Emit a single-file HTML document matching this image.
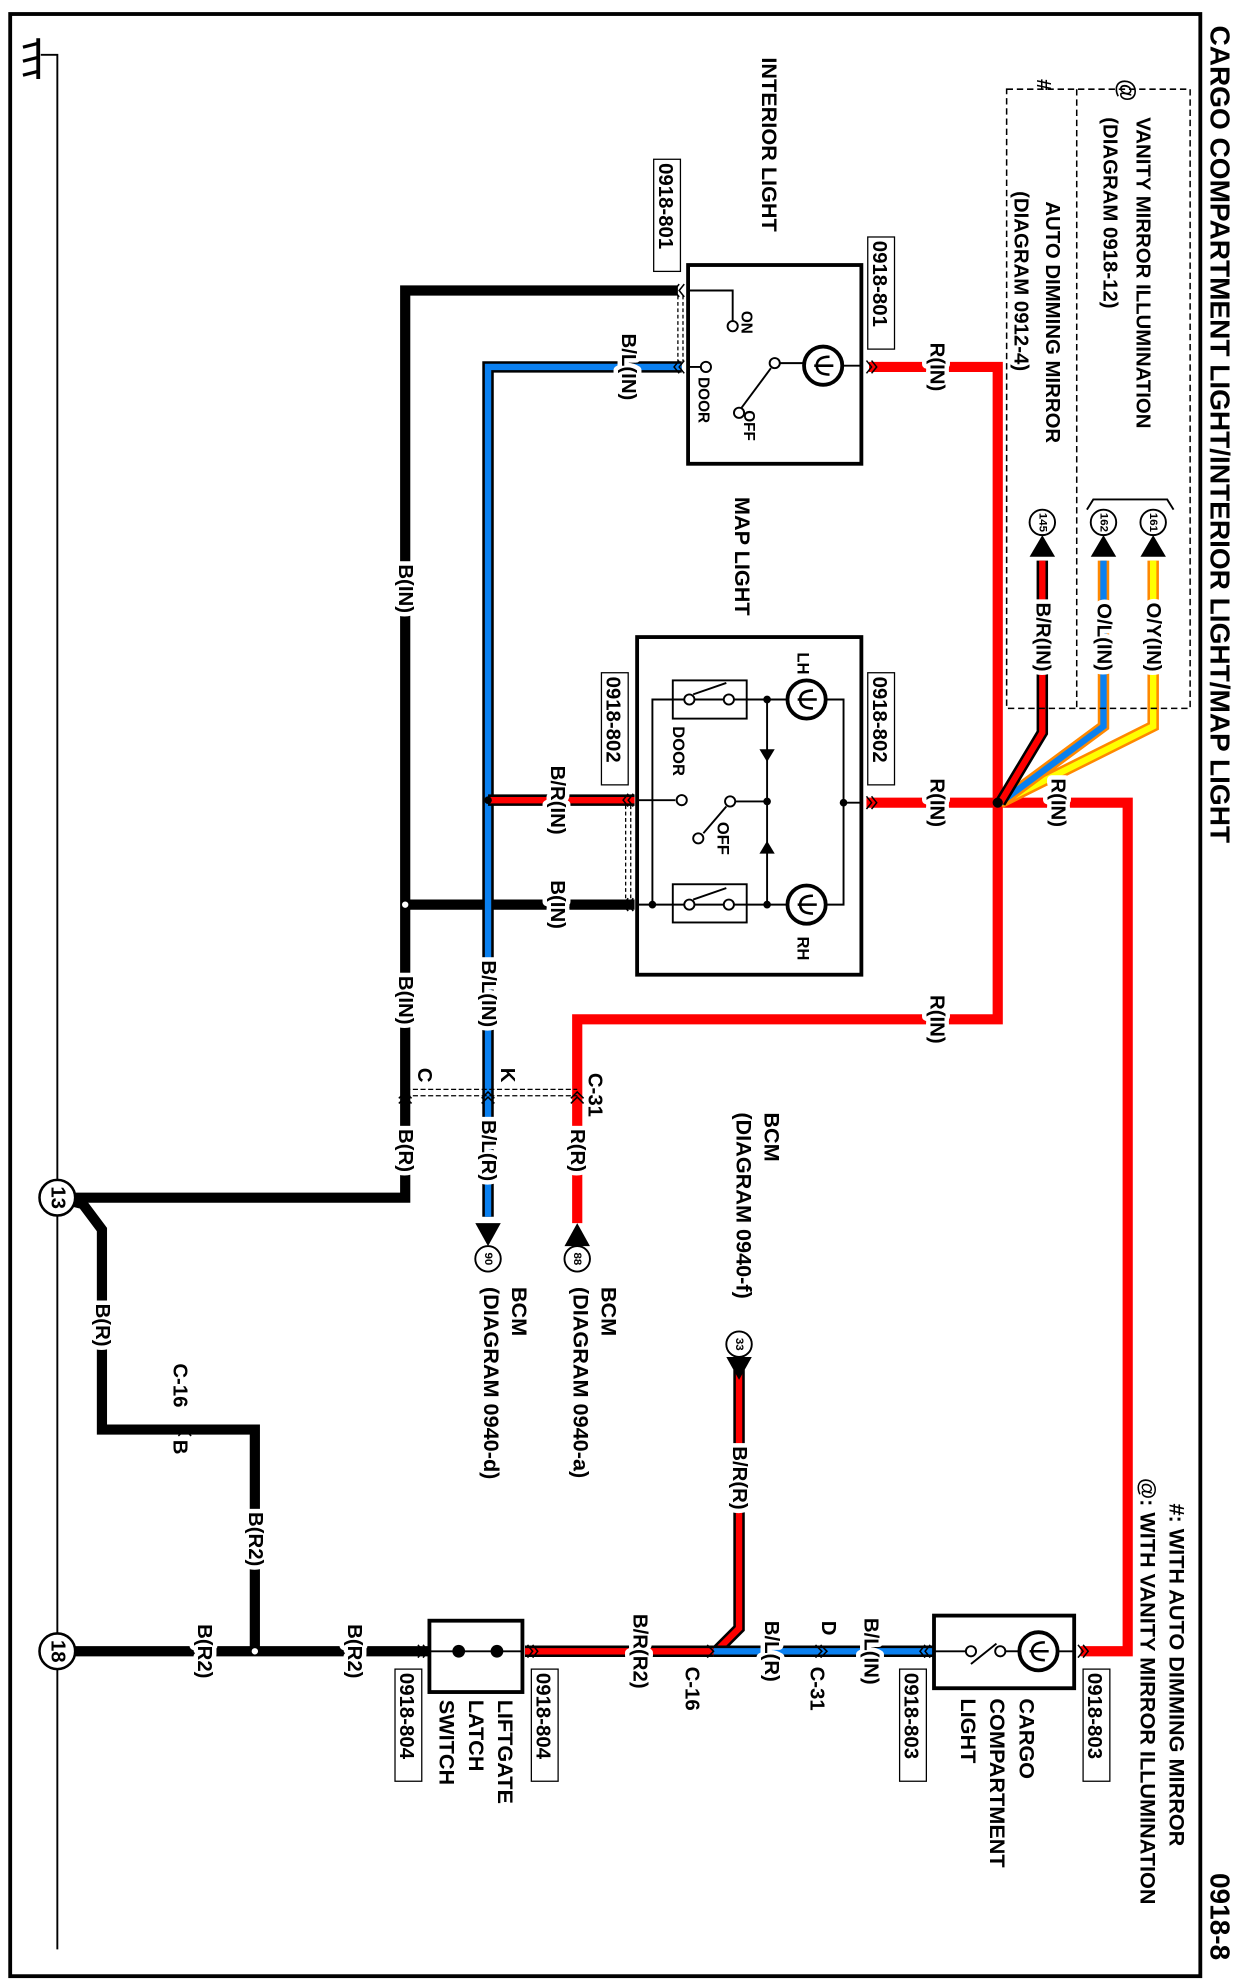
<!DOCTYPE html>
<html><head><meta charset="utf-8"><style>
html,body{margin:0;padding:0;background:#fff;}
svg{display:block;}
text{font-family:"Liberation Sans",sans-serif;font-weight:bold;fill:#000;}
.l{font-size:16px;paint-order:stroke;stroke:#fff;stroke-width:7px;stroke-linejoin:round;}
.n{font-size:16px;}
</style></head><body>
<svg width="1236" height="1980" viewBox="0 0 970 1554" preserveAspectRatio="none" xmlns="http://www.w3.org/2000/svg">
<defs>
<g id="lamp"><circle r="15" fill="#fff" stroke="#000" stroke-width="3"/><path d="M-7,-5 Q-7,5 0,5 Q7,5 7,-5 M0,-8 L0,7" fill="none" stroke="#000" stroke-width="2"/></g>
</defs>
<rect x="0" y="0" width="970" height="1554" fill="#fff"/>
<rect x="8" y="11" width="934" height="1540" fill="none" stroke="#000" stroke-width="3"/>
<text class="n" style="font-size:22px" transform="translate(950,20) rotate(90)">CARGO COMPARTMENT LIGHT/INTERIOR LIGHT/MAP LIGHT</text>
<text class="n" style="font-size:22px" transform="translate(950,1470) rotate(90)">0918-8</text>
<polyline points="32,43 45,43 45,1530" fill="none" stroke="#000" stroke-width="1.5"/>
<line x1="30" y1="30" x2="30" y2="62" stroke="#000" stroke-width="3"/>
<line x1="30" y1="34" x2="18" y2="37" stroke="#000" stroke-width="2.5"/>
<line x1="30" y1="45" x2="18" y2="48" stroke="#000" stroke-width="2.5"/>
<line x1="30" y1="56" x2="18" y2="59" stroke="#000" stroke-width="2.5"/>

<g fill="none" stroke="#000" stroke-width="8" stroke-linejoin="miter">
<polyline points="45,940 318,940 318,228 532,228"/>
<polyline points="45,940 65,945 80,965 80,1122 200,1122 200,1296"/>
<line x1="45" y1="1296" x2="338" y2="1296"/>
<line x1="318" y1="710" x2="498" y2="710"/>
</g>
<polyline points="535,288 383,288 383,955" fill="none" stroke="#000" stroke-width="9"/>
<polyline points="535,288 383,288 383,955" fill="none" stroke="#0a80f0" stroke-width="5"/>
<line x1="383" y1="628" x2="498" y2="628" stroke="#000" stroke-width="9"/>
<line x1="383" y1="628" x2="498" y2="628" stroke="#f00" stroke-width="5"/>
<g fill="none" stroke="#f00" stroke-width="8">
<polyline points="682,288 783,288 783,800 453,800 453,960"/>
<line x1="680" y1="630" x2="783" y2="630"/>
<polyline points="783,630 885,630 885,1296 848,1296"/>
</g>
<polyline points="905,440 905,570 785,630" fill="none" stroke="#f80" stroke-width="9"/>
<polyline points="905,440 905,570 785,630" fill="none" stroke="#ff0" stroke-width="5"/>
<polyline points="866,440 866,570 785,630" fill="none" stroke="#f80" stroke-width="9"/>
<polyline points="866,440 866,570 785,630" fill="none" stroke="#0a80f0" stroke-width="5"/>
<polyline points="818,440 818,575 785,630" fill="none" stroke="#000" stroke-width="9"/>
<polyline points="818,440 818,575 785,630" fill="none" stroke="#f00" stroke-width="5"/>
<circle cx="783" cy="630" r="4" fill="#000"/>
<line x1="412" y1="1296" x2="560" y2="1296" stroke="#000" stroke-width="9"/>
<line x1="412" y1="1296" x2="560" y2="1296" stroke="#f00" stroke-width="5"/>
<polyline points="580,1075 580,1278 562,1296" fill="none" stroke="#000" stroke-width="9"/>
<polyline points="580,1075 580,1278 562,1296" fill="none" stroke="#f00" stroke-width="5"/>
<line x1="560" y1="1296" x2="732" y2="1296" stroke="#000" stroke-width="9"/>
<line x1="560" y1="1296" x2="732" y2="1296" stroke="#0a80f0" stroke-width="5"/>

<circle cx="318" cy="710" r="3" fill="#fff" stroke="#000" stroke-width="1"/>
<circle cx="383" cy="628" r="3" fill="#000"/>
<circle cx="200" cy="1296" r="3" fill="#fff" stroke="#000" stroke-width="1"/>

<circle cx="45" cy="940" r="14" fill="#fff" stroke="#000" stroke-width="2"/>
<text class="n" text-anchor="middle" dominant-baseline="central" transform="translate(45,940) rotate(90)">13</text>
<circle cx="45" cy="1296" r="14" fill="#fff" stroke="#000" stroke-width="2"/>
<text class="n" text-anchor="middle" dominant-baseline="central" transform="translate(45,1296) rotate(90)">18</text>

<!-- interior light -->
<rect x="540" y="208" width="136" height="156" fill="#fff" stroke="#000" stroke-width="3"/>
<polyline points="540,228 575,228 575,252" fill="none" stroke="#000" stroke-width="1.5"/>
<circle cx="575" cy="256" r="4" fill="#fff" stroke="#000" stroke-width="1.5"/>
<line x1="540" y1="288" x2="550" y2="288" stroke="#000" stroke-width="1.5"/>
<circle cx="554" cy="288" r="4" fill="#fff" stroke="#000" stroke-width="1.5"/>
<circle cx="608" cy="285" r="4" fill="#fff" stroke="#000" stroke-width="1.5"/>
<line x1="605" y1="289" x2="582" y2="320" stroke="#000" stroke-width="1.5"/>
<circle cx="580" cy="324" r="4" fill="#fff" stroke="#000" stroke-width="1.5"/>
<line x1="612" y1="285" x2="632" y2="285" stroke="#000" stroke-width="1.5"/>
<use href="#lamp" transform="translate(646,287) rotate(90)"/>
<line x1="661" y1="287" x2="676" y2="287" stroke="#000" stroke-width="1.5"/>
<text class="n" style="font-size:12px" transform="translate(582,244) rotate(90)">ON</text>
<text class="n" style="font-size:12px" transform="translate(548,296) rotate(90)">DOOR</text>
<text class="n" style="font-size:12px" transform="translate(584,322) rotate(90)">OFF</text>
<text class="n" style="font-size:17px" transform="translate(598,45) rotate(90)">INTERIOR LIGHT</text>
<rect x="513" y="125" width="21" height="88" fill="#fff" stroke="#000" stroke-width="1"/>
<text class="n" transform="translate(517,128) rotate(90)">0918-801</text>
<rect x="681" y="186" width="21" height="88" fill="#fff" stroke="#000" stroke-width="1"/>
<text class="n" transform="translate(685,189) rotate(90)">0918-801</text>
<line x1="532" y1="232" x2="532" y2="284" stroke="#000" stroke-width="1" stroke-dasharray="3,2"/>
<line x1="536" y1="232" x2="536" y2="284" stroke="#000" stroke-width="1" stroke-dasharray="3,2"/>

<!-- map light -->
<rect x="500" y="500" width="176" height="265" fill="#fff" stroke="#000" stroke-width="3"/>
<rect x="528" y="534" width="58" height="30" fill="#fff" stroke="#000" stroke-width="1.5"/>
<rect x="528" y="694" width="58" height="30" fill="#fff" stroke="#000" stroke-width="1.5"/>
<polyline points="500,710 512,710 512,549 620,549" fill="none" stroke="#000" stroke-width="1.5"/>
<line x1="512" y1="710" x2="620" y2="710" stroke="#000" stroke-width="1.5"/>
<line x1="544" y1="545" x2="570" y2="536" stroke="#000" stroke-width="1.5"/>
<line x1="544" y1="706" x2="570" y2="697" stroke="#000" stroke-width="1.5"/>
<circle cx="541" cy="549" r="4" fill="#fff" stroke="#000" stroke-width="1.5"/>
<circle cx="572" cy="549" r="4" fill="#fff" stroke="#000" stroke-width="1.5"/>
<circle cx="541" cy="710" r="4" fill="#fff" stroke="#000" stroke-width="1.5"/>
<circle cx="572" cy="710" r="4" fill="#fff" stroke="#000" stroke-width="1.5"/>
<line x1="602" y1="549" x2="602" y2="710" stroke="#000" stroke-width="1.5"/>
<circle cx="602" cy="549" r="3" fill="#000"/><circle cx="602" cy="710" r="3" fill="#000"/><circle cx="602" cy="629" r="3" fill="#000"/>
<circle cx="512" cy="710" r="3" fill="#000"/>
<polygon points="596,588 608,588 602,598" fill="#000"/>
<polygon points="596,670 608,670 602,660" fill="#000"/>
<use href="#lamp" transform="translate(633,549) rotate(90)"/>
<use href="#lamp" transform="translate(633,710) rotate(90)"/>
<polyline points="648,549 662,549 662,710 648,710" fill="none" stroke="#000" stroke-width="1.5"/>
<line x1="662" y1="630" x2="676" y2="630" stroke="#000" stroke-width="1.5"/>
<circle cx="662" cy="630" r="3" fill="#000"/>
<line x1="500" y1="628" x2="530" y2="628" stroke="#000" stroke-width="1.5"/>
<circle cx="535" cy="628" r="4" fill="#fff" stroke="#000" stroke-width="1.5"/>
<line x1="602" y1="629" x2="577" y2="629" stroke="#000" stroke-width="1.5"/>
<circle cx="573" cy="629" r="4" fill="#fff" stroke="#000" stroke-width="1.5"/>
<line x1="570" y1="633" x2="552" y2="654" stroke="#000" stroke-width="1.5"/>
<circle cx="548" cy="658" r="4" fill="#fff" stroke="#000" stroke-width="1.5"/>
<text class="n" style="font-size:13px" transform="translate(626,512) rotate(90)">LH</text>
<text class="n" style="font-size:13px" transform="translate(626,735) rotate(90)">RH</text>
<text class="n" style="font-size:13px" transform="translate(528,570) rotate(90)">DOOR</text>
<text class="n" style="font-size:13px" transform="translate(563,645) rotate(90)">OFF</text>
<text class="n" style="font-size:17px" transform="translate(577,390) rotate(90)">MAP LIGHT</text>
<rect x="472" y="528" width="21" height="88" fill="#fff" stroke="#000" stroke-width="1"/>
<text class="n" transform="translate(476,531) rotate(90)">0918-802</text>
<rect x="681" y="528" width="21" height="88" fill="#fff" stroke="#000" stroke-width="1"/>
<text class="n" transform="translate(685,531) rotate(90)">0918-802</text>
<line x1="491" y1="632" x2="491" y2="706" stroke="#000" stroke-width="1" stroke-dasharray="3,2"/>
<line x1="495" y1="632" x2="495" y2="706" stroke="#000" stroke-width="1" stroke-dasharray="3,2"/>

<!-- dashed option box -->
<rect x="790" y="70" width="144" height="486" fill="none" stroke="#000" stroke-width="1.2" stroke-dasharray="5,3"/>
<line x1="845" y1="70" x2="845" y2="556" stroke="#000" stroke-width="1.2" stroke-dasharray="5,3"/>
<text class="n" style="font-size:18px" transform="translate(878,62) rotate(90)">@</text>
<text class="n" style="font-size:16px" transform="translate(814,62) rotate(90)">#</text>
<text class="n" transform="translate(892,92) rotate(90)">VANITY MIRROR ILLUMINATION</text>
<text class="n" transform="translate(866,92) rotate(90)">(DIAGRAM  0918-12)</text>
<text class="n" transform="translate(821,158) rotate(90)">AUTO DIMMING MIRROR</text>
<text class="n" transform="translate(796,150) rotate(90)">(DIAGRAM  0912-4)</text>
<polyline points="853,400 858,392 916,392 921,400" fill="none" stroke="#000" stroke-width="1.5"/>
<g>
<circle cx="905" cy="410" r="10" fill="#fff" stroke="#000" stroke-width="1.5"/>
<polygon points="895,437 915,437 905,420" fill="#000"/>
<circle cx="866" cy="410" r="10" fill="#fff" stroke="#000" stroke-width="1.5"/>
<polygon points="856,437 876,437 866,420" fill="#000"/>
<circle cx="818" cy="410" r="10" fill="#fff" stroke="#000" stroke-width="1.5"/>
<polygon points="808,437 828,437 818,420" fill="#000"/>
<text class="n" style="font-size:9px" text-anchor="middle" dominant-baseline="central" transform="translate(905,410) rotate(90)">161</text>
<text class="n" style="font-size:9px" text-anchor="middle" dominant-baseline="central" transform="translate(866,410) rotate(90)">162</text>
<text class="n" style="font-size:9px" text-anchor="middle" dominant-baseline="central" transform="translate(818,410) rotate(90)">145</text>
</g>
<text class="l" text-anchor="middle" dominant-baseline="central" transform="translate(905,500) rotate(90)">O/Y(IN)</text>
<text class="l" text-anchor="middle" dominant-baseline="central" transform="translate(866,500) rotate(90)">O/L(IN)</text>
<text class="l" text-anchor="middle" dominant-baseline="central" transform="translate(818,500) rotate(90)">B/R(IN)</text>

<g fill="none" stroke="#000" stroke-width="1.2">
<polyline points="680,283 684,288 680,293"/><polyline points="684,283 688,288 684,293"/>
<polyline points="680,625 684,630 680,635"/><polyline points="684,625 688,630 684,635"/>
<polyline points="537,223 533,228 537,233"/><polyline points="533,223 529,228 533,233"/>
<polyline points="537,283 533,288 537,293"/><polyline points="533,283 529,288 533,293"/>
<polyline points="497,623 493,628 497,633"/><polyline points="493,623 489,628 493,633"/>
<polyline points="497,705 493,710 497,715"/><polyline points="493,705 489,710 493,715"/>
<polyline points="846,1291 850,1296 846,1301"/><polyline points="850,1291 854,1296 850,1301"/>
<polyline points="730,1291 726,1296 730,1301"/><polyline points="726,1291 722,1296 726,1301"/>
<polyline points="414,1291 418,1296 414,1301"/><polyline points="418,1291 422,1296 418,1301"/>
<polyline points="332,1291 336,1296 332,1301"/><polyline points="328,1291 332,1296 328,1301"/>
<polyline points="313,862 318,857 323,862"/><polyline points="313,866 318,861 323,866"/>
<polyline points="378,862 383,857 388,862"/><polyline points="378,866 383,861 388,866"/>
<polyline points="448,862 453,857 458,862"/><polyline points="448,866 453,861 458,866"/>
<polyline points="75,1127 80,1122 85,1127" transform="translate(65,0)"/>
<polyline points="555,1291 560,1296 555,1301"/><polyline points="640,1291 645,1296 640,1301"/><polyline points="644,1291 649,1296 644,1301"/>
</g>
<line x1="318" y1="855" x2="453" y2="855" stroke="#000" stroke-width="1" stroke-dasharray="4,2"/>
<line x1="318" y1="860" x2="453" y2="860" stroke="#000" stroke-width="1" stroke-dasharray="4,2"/>
<text class="n" transform="translate(328,838) rotate(90)">C</text>
<text class="n" transform="translate(393,838) rotate(90)">K</text>
<text class="n" transform="translate(462,842) rotate(90)">C-31</text>

<!-- liftgate switch -->
<rect x="337" y="1272" width="73" height="56" fill="#fff" stroke="#000" stroke-width="3"/>
<line x1="337" y1="1296" x2="410" y2="1296" stroke="#000" stroke-width="1.5"/>
<circle cx="360" cy="1296" r="5" fill="#000"/><circle cx="390" cy="1296" r="5" fill="#000"/>
<rect x="310" y="1310" width="21" height="88" fill="#fff" stroke="#000" stroke-width="1"/>
<text class="n" transform="translate(314,1313) rotate(90)">0918-804</text>
<rect x="417" y="1310" width="21" height="88" fill="#fff" stroke="#000" stroke-width="1"/>
<text class="n" transform="translate(421,1313) rotate(90)">0918-804</text>
<text class="n" style="font-size:17px" transform="translate(391,1334) rotate(90)">LIFTGATE</text>
<text class="n" style="font-size:17px" transform="translate(368,1334) rotate(90)">LATCH</text>
<text class="n" style="font-size:17px" transform="translate(345,1334) rotate(90)">SWITCH</text>

<!-- cargo light -->
<rect x="733" y="1268" width="110" height="57" fill="#fff" stroke="#000" stroke-width="3"/>
<line x1="733" y1="1296" x2="758" y2="1296" stroke="#000" stroke-width="1.5"/>
<circle cx="762" cy="1296" r="4" fill="#fff" stroke="#000" stroke-width="1.5"/>
<line x1="762" y1="1306" x2="782" y2="1290" stroke="#000" stroke-width="1.5"/>
<circle cx="785" cy="1296" r="4" fill="#fff" stroke="#000" stroke-width="1.5"/>
<line x1="789" y1="1296" x2="800" y2="1296" stroke="#000" stroke-width="1.5"/>
<use href="#lamp" transform="translate(815,1296) rotate(90)"/>
<line x1="830" y1="1296" x2="843" y2="1296" stroke="#000" stroke-width="1.5"/>
<rect x="706" y="1310" width="21" height="88" fill="#fff" stroke="#000" stroke-width="1"/>
<text class="n" transform="translate(710,1313) rotate(90)">0918-803</text>
<rect x="850" y="1310" width="21" height="88" fill="#fff" stroke="#000" stroke-width="1"/>
<text class="n" transform="translate(854,1313) rotate(90)">0918-803</text>
<text class="n" style="font-size:17px" transform="translate(800,1333) rotate(90)">CARGO</text>
<text class="n" style="font-size:17px" transform="translate(777,1333) rotate(90)">COMPARTMENT</text>
<text class="n" style="font-size:17px" transform="translate(754,1333) rotate(90)">LIGHT</text>
<text class="n" style="font-size:17px" transform="translate(918,1180) rotate(90)">#: WITH AUTO DIMMING MIRROR</text>
<text class="n" style="font-size:17px" transform="translate(895,1160) rotate(90)">@: WITH VANITY MIRROR ILLUMINATION</text>

<!-- BCM arrows -->
<polygon points="373,960 393,960 383,978" fill="#000"/>
<circle cx="383" cy="988" r="10" fill="#fff" stroke="#000" stroke-width="1.5"/>
<text class="n" style="font-size:9px" text-anchor="middle" dominant-baseline="central" transform="translate(383,988) rotate(90)">90</text>
<polygon points="443,978 463,978 453,960" fill="#000"/>
<circle cx="453" cy="988" r="10" fill="#fff" stroke="#000" stroke-width="1.5"/>
<text class="n" style="font-size:9px" text-anchor="middle" dominant-baseline="central" transform="translate(453,988) rotate(90)">88</text>
<circle cx="580" cy="1055" r="10" fill="#fff" stroke="#000" stroke-width="1.5"/>
<text class="n" style="font-size:9px" text-anchor="middle" dominant-baseline="central" transform="translate(580,1055) rotate(90)">33</text>
<polygon points="570,1065 590,1065 580,1083" fill="#000"/>
<text class="n" style="font-size:17px" transform="translate(402,1010) rotate(90)">BCM</text>
<text class="n" style="font-size:17px" transform="translate(380,1010) rotate(90)">(DIAGRAM  0940-d)</text>
<text class="n" style="font-size:17px" transform="translate(472,1010) rotate(90)">BCM</text>
<text class="n" style="font-size:17px" transform="translate(450,1010) rotate(90)">(DIAGRAM  0940-a)</text>
<text class="n" style="font-size:17px" transform="translate(600,873) rotate(90)">BCM</text>
<text class="n" style="font-size:17px" transform="translate(578,873) rotate(90)">(DIAGRAM  0940-f)</text>

<g>
<text class="l" text-anchor="middle" dominant-baseline="central" transform="translate(735,288) rotate(90)">R(IN)</text>
<text class="l" text-anchor="middle" dominant-baseline="central" transform="translate(735,630) rotate(90)">R(IN)</text>
<text class="l" text-anchor="middle" dominant-baseline="central" transform="translate(830,630) rotate(90)">R(IN)</text>
<text class="l" text-anchor="middle" dominant-baseline="central" transform="translate(735,800) rotate(90)">R(IN)</text>
<text class="l" text-anchor="middle" dominant-baseline="central" transform="translate(493,288) rotate(90)">B/L(IN)</text>
<text class="l" text-anchor="middle" dominant-baseline="central" transform="translate(437,628) rotate(90)">B/R(IN)</text>
<text class="l" text-anchor="middle" dominant-baseline="central" transform="translate(437,710) rotate(90)">B(IN)</text>
<text class="l" text-anchor="middle" dominant-baseline="central" transform="translate(318,462) rotate(90)">B(IN)</text>
<text class="l" text-anchor="middle" dominant-baseline="central" transform="translate(318,785) rotate(90)">B(IN)</text>
<text class="l" text-anchor="middle" dominant-baseline="central" transform="translate(383,780) rotate(90)">B/L(IN)</text>
<text class="l" text-anchor="middle" dominant-baseline="central" transform="translate(318,903) rotate(90)">B(R)</text>
<text class="l" text-anchor="middle" dominant-baseline="central" transform="translate(383,903) rotate(90)">B/L(R)</text>
<text class="l" text-anchor="middle" dominant-baseline="central" transform="translate(453,903) rotate(90)">R(R)</text>
<text class="l" text-anchor="middle" dominant-baseline="central" transform="translate(80,1040) rotate(90)">B(R)</text>
<text class="l" text-anchor="middle" dominant-baseline="central" transform="translate(200,1208) rotate(90)">B(R2)</text>
<text class="l" text-anchor="middle" dominant-baseline="central" transform="translate(160,1296) rotate(90)">B(R2)</text>
<text class="l" text-anchor="middle" dominant-baseline="central" transform="translate(278,1296) rotate(90)">B(R2)</text>
<text class="l" text-anchor="middle" dominant-baseline="central" transform="translate(502,1296) rotate(90)">B/R(R2)</text>
<text class="l" text-anchor="middle" dominant-baseline="central" transform="translate(580,1160) rotate(90)">B/R(R)</text>
<text class="l" text-anchor="middle" dominant-baseline="central" transform="translate(605,1296) rotate(90)">B/L(R)</text>
<text class="l" text-anchor="middle" dominant-baseline="central" transform="translate(683,1296) rotate(90)">B/L(IN)</text>
</g>
<text class="n" transform="translate(136,1070) rotate(90)">C-16</text>
<text class="n" transform="translate(136,1130) rotate(90)">B</text>
<text class="n" transform="translate(538,1308) rotate(90)">C-16</text>
<text class="n" transform="translate(645,1272) rotate(90)">D</text>
<text class="n" transform="translate(636,1308) rotate(90)">C-31</text>
</svg>
</body></html>
